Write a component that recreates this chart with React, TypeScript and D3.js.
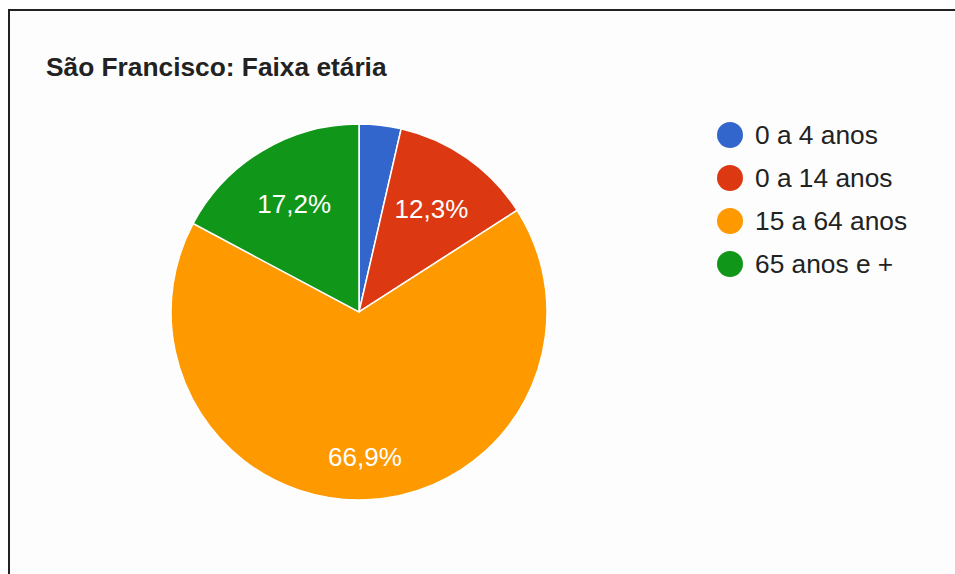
import React from 'react';
import * as d3 from 'd3';

const categories = ['0 a 4 anos', '0 a 14 anos', '15 a 64 anos', '65 anos e +'];
const values = [3.6, 12.3, 66.9, 17.2];
const labels = ['3,6%', '12,3%', '66,9%', '17,2%'];
const colors = ['#3366cc', '#dc3912', '#ff9900', '#109618'];

const W = 955;
const H = 574;

export default function App() {
  const cx = 359;
  const cy = 312;
  const r = 188;

  const pie = d3.pie<number>().sort(null).value(d => d);
  const arcs = pie(values);
  const arc = d3.arc<d3.PieArcDatum<number>>().innerRadius(0).outerRadius(r);

  const color = d3.scaleOrdinal<string, string>().domain(categories).range(colors);
  const legendY = d3.scalePoint<string>().domain(categories).range([135, 264]);

  return (
    <svg width={W} height={H} style={{ position: 'absolute', left: 0, top: 0, background: '#fff' }}
      fontFamily="'Liberation Sans', Arial, sans-serif">
      <rect x={9} y={10} width={W} height={H} fill="#fdfdfd" />
      <path d={`M9,${H} V10 H${W}`} fill="none" stroke="#222" strokeWidth={2} />

      <text x={46} y={76} fontSize={26.3} fontWeight="bold" fill="#222">São Francisco: Faixa etária</text>

      <g transform={`translate(${cx},${cy})`}>
        {arcs.map((a, i) => (
          <path key={i} d={arc(a) || ''} fill={color(categories[i])} stroke="#fff" strokeWidth={1.5} />
        ))}
        {arcs.map((a, i) => {
          const ang = a.endAngle - a.startAngle;
          if (ang < 0.4) return null;
          const lr = ang > Math.PI ? r * 0.77 : r * 0.67;
          const [x, y] = d3.arc<d3.PieArcDatum<number>>().innerRadius(lr).outerRadius(lr).centroid(a);
          return (
            <text key={'l' + i} x={x} y={y} textAnchor="middle" dominantBaseline="central"
              fontSize={26} fill="#fff">{labels[i]}</text>
          );
        })}
      </g>

      <g>
        {categories.map(c => (
          <g key={c} transform={`translate(0,${legendY(c)})`}>
            <circle cx={730} cy={0} r={13} fill={color(c)} />
            <text x={755} y={9} fontSize={26.3} fill="#222">{c}</text>
          </g>
        ))}
      </g>
    </svg>
  );
}
